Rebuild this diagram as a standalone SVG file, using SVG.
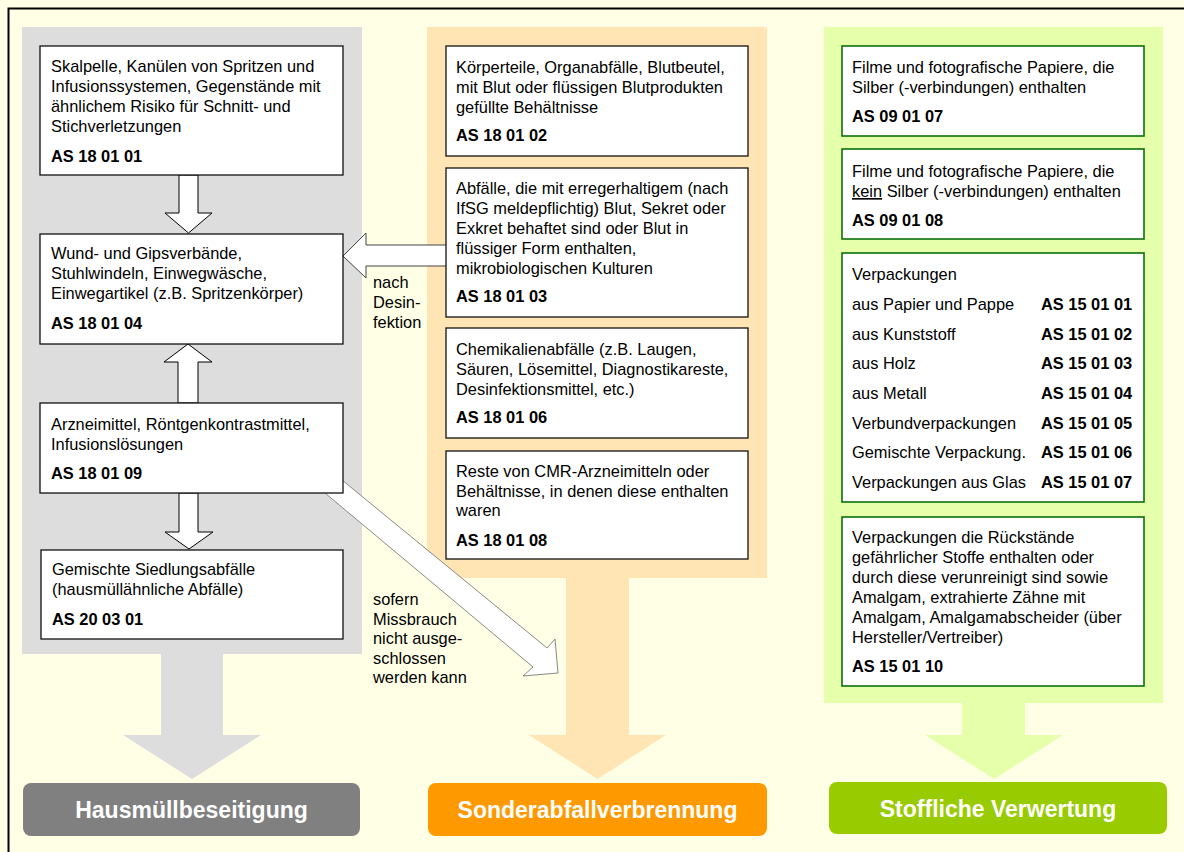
<svg xmlns="http://www.w3.org/2000/svg" width="1184" height="852" viewBox="0 0 1184 852">
<style>
.t{font-family:"Liberation Sans",Arial,sans-serif;font-size:16.4px;fill:#000}
.b{font-weight:bold}
.box{fill:#fff;stroke:#111;stroke-width:1.3}
.gbox{fill:#fff;stroke:#0b700b;stroke-width:1.6}
.blk{fill:#fff;stroke:#000;stroke-width:1}
.side{fill:#fff;stroke:#444;stroke-width:1}
.diag{fill:#fff;stroke:#888;stroke-width:1}
.btn{font-family:"Liberation Sans",Arial,sans-serif;font-size:23px;font-weight:bold;fill:#fff;text-anchor:middle}
</style>
<rect x="0" y="0" width="1184" height="852" fill="#FFFFE6"/>
<path d="M8.5,852 V8.5 H1184" fill="none" stroke="#000" stroke-width="2"/>

<g id="panels">
  <rect x="22" y="27" width="340" height="627" fill="#DDDDDD"/>
  <polygon points="161,653 223,653 223,735 261,735 192,779 123,735 161,735" fill="#DDDDDD"/>
  <rect x="427" y="27" width="340" height="551" fill="#FFE5B4"/>
  <polygon points="566,577 629,577 629,735 666,735 597.5,779 529,735 566,735" fill="#FFE5B4"/>
  <rect x="824" y="27" width="339" height="676" fill="#E5FFAA"/>
  <polygon points="962,702 1025,702 1025,735 1063,735 994,779 925,735 962,735" fill="#E5FFAA"/>
</g>

<g id="hausmuell">
  <rect x="23" y="783" width="337" height="53" rx="8" fill="#808080"/>
  <text class="btn" x="191.5" y="818">Hausmüllbeseitigung</text>
</g>
<g id="sonderabfall">
  <rect x="428" y="783" width="339" height="53" rx="8" fill="#FF9900"/>
  <text class="btn" x="597.5" y="818">Sonderabfallverbrennung</text>
</g>
<g id="verwertung">
  <rect x="829" y="782" width="338" height="52" rx="8" fill="#99CC00"/>
  <text class="btn" x="998" y="817">Stoffliche Verwertung</text>
</g>

<g id="connectors">
  <polygon class="blk" points="179,175 198,175 198,213 212,213 188.5,233 165,213 179,213"/>
  <polygon class="blk" points="178,403 198,403 198,362 212,362 188,344 164,362 178,362"/>
  <polygon class="blk" points="179,493 198,493 198,532 213,532 189,549 165,532 179,532"/>
  <polygon class="side" points="447,245 366,245 366,233 343,256 366,278 366,266 447,266"/>
  <polygon class="diag" points="331.5,471.4 547,648 555,639 558,673 523,676 533,667 313.5,483.4"/>
  <text class="t" x="373" y="288">nach</text>
  <text class="t" x="373" y="308">Desin-</text>
  <text class="t" x="373" y="328">fektion</text>
  <text class="t" x="373" y="605">sofern</text>
  <text class="t" x="373" y="624.5">Missbrauch</text>
  <text class="t" x="373" y="644">nicht ausge-</text>
  <text class="t" x="373" y="663.5">schlossen</text>
  <text class="t" x="373" y="683">werden kann</text>
</g>

<g id="as180101">
  <rect class="box" x="40" y="46" width="303" height="129"/>
  <text class="t" x="51" y="72">Skalpelle, Kanülen von Spritzen und</text>
  <text class="t" x="51" y="92">Infusionssystemen, Gegenstände mit</text>
  <text class="t" x="51" y="112">ähnlichem Risiko für Schnitt- und</text>
  <text class="t" x="51" y="132">Stichverletzungen</text>
  <text class="t b" x="51" y="162">AS 18 01 01</text>
</g>
<g id="as180104">
  <rect class="box" x="40" y="234" width="303" height="110"/>
  <text class="t" x="51" y="259">Wund- und Gipsverbände,</text>
  <text class="t" x="51" y="279">Stuhlwindeln, Einwegwäsche,</text>
  <text class="t" x="51" y="299">Einwegartikel (z.B. Spritzenkörper)</text>
  <text class="t b" x="51" y="329">AS 18 01 04</text>
</g>
<g id="as180109">
  <rect class="box" x="40" y="403" width="303" height="90"/>
  <text class="t" x="51" y="430">Arzneimittel, Röntgenkontrastmittel,</text>
  <text class="t" x="51" y="450">Infusionslösungen</text>
  <text class="t b" x="51" y="479">AS 18 01 09</text>
</g>
<g id="as200301">
  <rect class="box" x="41" y="550" width="302" height="89"/>
  <text class="t" x="52" y="575">Gemischte Siedlungsabfälle</text>
  <text class="t" x="52" y="595">(hausmüllähnliche Abfälle)</text>
  <text class="t b" x="52" y="625">AS 20 03 01</text>
</g>

<g id="as180102">
  <rect class="box" x="446" y="46" width="302" height="110"/>
  <text class="t" x="456" y="73">Körperteile, Organabfälle, Blutbeutel,</text>
  <text class="t" x="456" y="93">mit Blut oder flüssigen Blutprodukten</text>
  <text class="t" x="456" y="113">gefüllte Behältnisse</text>
  <text class="t b" x="456" y="141">AS 18 01 02</text>
</g>
<g id="as180103">
  <rect class="box" x="446" y="168" width="302" height="149"/>
  <text class="t" x="456" y="194">Abfälle, die mit erregerhaltigem (nach</text>
  <text class="t" x="456" y="214">IfSG meldepflichtig) Blut, Sekret oder</text>
  <text class="t" x="456" y="234">Exkret behaftet sind oder Blut in</text>
  <text class="t" x="456" y="254">flüssiger Form enthalten,</text>
  <text class="t" x="456" y="274">mikrobiologischen Kulturen</text>
  <text class="t b" x="456" y="302">AS 18 01 03</text>
</g>
<g id="as180106">
  <rect class="box" x="446" y="328" width="302" height="110"/>
  <text class="t" x="456" y="355">Chemikalienabfälle (z.B. Laugen,</text>
  <text class="t" x="456" y="375">Säuren, Lösemittel, Diagnostikareste,</text>
  <text class="t" x="456" y="395">Desinfektionsmittel, etc.)</text>
  <text class="t b" x="456" y="423">AS 18 01 06</text>
</g>
<g id="as180108">
  <rect class="box" x="446" y="451" width="302" height="108"/>
  <text class="t" x="456" y="477">Reste von CMR-Arzneimitteln oder</text>
  <text class="t" x="456" y="497">Behältnisse, in denen diese enthalten</text>
  <text class="t" x="456" y="516">waren</text>
  <text class="t b" x="456" y="546">AS 18 01 08</text>
</g>

<g id="as090107">
  <rect class="gbox" x="842" y="46" width="302" height="90"/>
  <text class="t" x="852" y="73">Filme und fotografische Papiere, die</text>
  <text class="t" x="852" y="93">Silber (-verbindungen) enthalten</text>
  <text class="t b" x="852" y="122">AS 09 01 07</text>
</g>
<g id="as090108">
  <rect class="gbox" x="842" y="149" width="302" height="90"/>
  <text class="t" x="852" y="177">Filme und fotografische Papiere, die</text>
  <text class="t" x="852" y="197"><tspan text-decoration="underline">kein</tspan> Silber (-verbindungen) enthalten</text>
  <text class="t b" x="852" y="226">AS 09 01 08</text>
</g>
<g id="verpackungen">
  <rect class="gbox" x="842" y="253" width="302" height="249"/>
  <text class="t" x="852" y="280">Verpackungen</text>
  <text class="t" x="852" y="310">aus Papier und Pappe</text>
  <text class="t b" x="1041" y="310">AS 15 01 01</text>
  <text class="t" x="852" y="339.5">aus Kunststoff</text>
  <text class="t b" x="1041" y="339.5">AS 15 01 02</text>
  <text class="t" x="852" y="369">aus Holz</text>
  <text class="t b" x="1041" y="369">AS 15 01 03</text>
  <text class="t" x="852" y="399">aus Metall</text>
  <text class="t b" x="1041" y="399">AS 15 01 04</text>
  <text class="t" x="852" y="428.5">Verbundverpackungen</text>
  <text class="t b" x="1041" y="428.5">AS 15 01 05</text>
  <text class="t" x="852" y="458">Gemischte Verpackung.</text>
  <text class="t b" x="1041" y="458">AS 15 01 06</text>
  <text class="t" x="852" y="488">Verpackungen aus Glas</text>
  <text class="t b" x="1041" y="488">AS 15 01 07</text>
</g>
<g id="as150110">
  <rect class="gbox" x="842" y="517" width="302" height="169"/>
  <text class="t" x="852" y="543">Verpackungen die Rückstände</text>
  <text class="t" x="852" y="563">gefährlicher Stoffe enthalten oder</text>
  <text class="t" x="852" y="583">durch diese verunreinigt sind sowie</text>
  <text class="t" x="852" y="603">Amalgam, extrahierte Zähne mit</text>
  <text class="t" x="852" y="623">Amalgam, Amalgamabscheider (über</text>
  <text class="t" x="852" y="643">Hersteller/Vertreiber)</text>
  <text class="t b" x="852" y="672">AS 15 01 10</text>
</g>
</svg>
